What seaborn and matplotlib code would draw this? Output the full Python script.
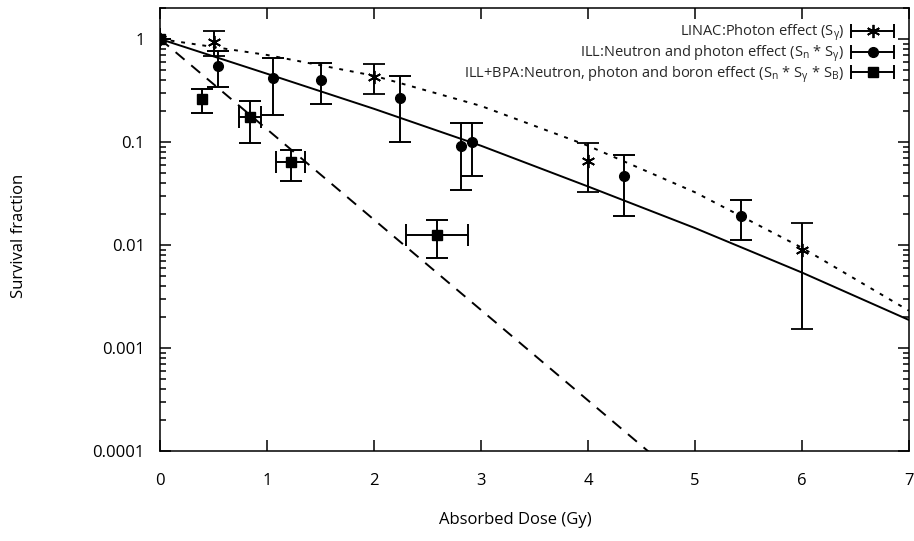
import numpy as np
import pandas as pd
import matplotlib
matplotlib.use("Agg")
import matplotlib.pyplot as plt
import seaborn as sns
from matplotlib.legend_handler import HandlerBase
from matplotlib.lines import Line2D
from matplotlib.ticker import FixedLocator, FixedFormatter, LogLocator, NullFormatter

# ---- data ----
# LINAC: photon effect
dose_linac = [0.0, 0.5, 2.0, 4.0, 6.0]
sf_linac = [1.0, 0.93, 0.43, 0.066, 0.0089]
sf_linac_hi = [1.0, 1.2, 0.57, 0.097, 0.0165]
sf_linac_lo = [1.0, 0.68, 0.29, 0.033, 0.00153]

# ILL: neutron and photon effect
dose_ill = [0.0, 0.54, 1.06, 1.50, 2.24, 2.81, 2.92, 4.34, 5.43]
sf_ill = [1.0, 0.55, 0.42, 0.40, 0.27, 0.092, 0.10, 0.047, 0.019]
sf_ill_hi = [1.0, 0.77, 0.66, 0.58, 0.44, 0.152, 0.153, 0.075, 0.0273]
sf_ill_lo = [1.0, 0.34, 0.183, 0.232, 0.10, 0.034, 0.047, 0.019, 0.0112]

# ILL+BPA: neutron, photon and boron effect
dose_bpa = [0.0, 0.39, 0.84, 1.22, 2.59]
dose_bpa_err = [0.0, 0.0, 0.10, 0.135, 0.29]
sf_bpa = [1.0, 0.26, 0.176, 0.0635, 0.0125]
sf_bpa_hi = [1.0, 0.33, 0.25, 0.084, 0.0175]
sf_bpa_lo = [1.0, 0.19, 0.098, 0.042, 0.0075]

# fitted curves
fit_dose = [0, 1, 2, 3, 4, 5, 6, 7]
fit_linac = [1.0, 0.70, 0.44, 0.224, 0.092, 0.0325, 0.0094, 0.0023]
fit_ill = [1.0, 0.46, 0.21, 0.092, 0.037, 0.0146, 0.0054, 0.00187]
fit_bpa_dose = [0, 1, 2, 3, 4, 5]
fit_bpa = [1.0, 0.133, 0.0176, 0.00234, 0.00031, 0.000041]

labels = [
    r"LINAC:Photon effect (S$_\mathregular{γ}$)",
    r"ILL:Neutron and photon effect (S$_\mathregular{n}$ * S$_\mathregular{γ}$)",
    r"ILL+BPA:Neutron, photon and boron effect (S$_\mathregular{n}$ * S$_\mathregular{γ}$ * S$_\mathregular{B}$)",
]
xticks = [0, 1, 2, 3, 4, 5, 6, 7]
yticks = [1e-4, 1e-3, 1e-2, 1e-1, 1]
ytick_labels = ["0.0001", "0.001", "0.01", "0.1", "1"]

# ---- style ----
sns.set_theme(style="ticks")
plt.rcParams['font.family'] = ['Open Sans', 'DejaVu Sans']
plt.rcParams['mathtext.fontset'] = 'dejavusans'

fig = plt.figure(figsize=(9.14, 5.41), dpi=100)
ax = fig.add_axes([160 / 914, 1 - 451 / 541, (909 - 160) / 914, (451 - 8) / 541])

lw = 1.4
sns.lineplot(x=fit_dose, y=fit_linac, ax=ax, color="black", lw=lw,
             linestyle=(0, (2, 3.5)), estimator=None, sort=False)
sns.lineplot(x=fit_dose, y=fit_ill, ax=ax, color="black", lw=lw,
             linestyle="-", estimator=None, sort=False)
sns.lineplot(x=fit_bpa_dose, y=fit_bpa, ax=ax, color="black", lw=lw,
             linestyle=(0, (6, 4.5)), estimator=None, sort=False)

def yerr(v, lo, hi):
    v = np.asarray(v); lo = np.asarray(lo); hi = np.asarray(hi)
    return [v - lo, hi - v]

ekw = dict(color="black", ecolor="black", elinewidth=lw, capthick=lw,
           capsize=8, linestyle="none")
ax.errorbar(dose_linac, sf_linac, yerr=yerr(sf_linac, sf_linac_lo, sf_linac_hi),
            marker=(6, 2, 0), ms=9.5, mew=1.3, **ekw)
ax.errorbar(dose_ill, sf_ill, yerr=yerr(sf_ill, sf_ill_lo, sf_ill_hi),
            marker="o", ms=7, **ekw)
ax.errorbar(dose_bpa, sf_bpa, xerr=dose_bpa_err,
            yerr=yerr(sf_bpa, sf_bpa_lo, sf_bpa_hi),
            marker="s", ms=6.5, **ekw)

ax.set_yscale("log")
ax.set_xlim(0, 7)
ax.set_ylim(1e-4, 2)
ax.xaxis.set_major_locator(FixedLocator(xticks))
ax.yaxis.set_major_locator(FixedLocator(yticks))
ax.yaxis.set_major_formatter(FixedFormatter(ytick_labels))
ax.yaxis.set_minor_locator(LogLocator(base=10, subs=np.arange(2, 10)))
ax.yaxis.set_minor_formatter(NullFormatter())
ax.tick_params(which="both", direction="in", top=True, right=True,
               color="black", width=1.1, labelsize=12, labelcolor="black")
ax.tick_params(which="major", length=8)
ax.tick_params(which="minor", length=4.5)
ax.tick_params(axis="x", pad=15.5)
ax.tick_params(axis="y", pad=11)
for s in ax.spines.values():
    s.set_linewidth(1.1)
    s.set_color("black")

ax.set_xlabel("Absorbed Dose (Gy)", fontsize=12, color="black")
ax.set_ylabel("Survival fraction", fontsize=12, color="black")
ax.xaxis.set_label_coords(0.475, -0.138)
ax.yaxis.set_label_coords(-0.178, 0.485)

# gnuplot-style legend keys
class GnuKey(HandlerBase):
    def __init__(self, marker, ms, mew=1.0):
        super().__init__()
        self.marker, self.ms, self.mew = marker, ms, mew
    def create_artists(self, legend, orig_handle, xdescent, ydescent, width,
                       height, fontsize, trans):
        y = height / 2 - ydescent
        x0, x1 = -xdescent, width - xdescent
        line = Line2D([x0, x1], [y, y], color="black", lw=lw, transform=trans)
        caps = Line2D([x0, x1], [y, y], color="black", ls="none", marker="|",
                      ms=10, mew=lw, transform=trans)
        mk = Line2D([(x0 + x1) / 2], [y], color="black", ls="none",
                    marker=self.marker, ms=self.ms, mew=self.mew, transform=trans)
        return [line, caps, mk]

h1 = Line2D([], [], color="black")
h2 = Line2D([], [], color="black")
h3 = Line2D([], [], color="black")
leg = ax.legend([h1, h2, h3], labels, loc="upper right", frameon=False,
                markerfirst=False, fontsize=10.5, handlelength=2.95,
                handletextpad=0.5, labelspacing=0.0, borderaxespad=0.6,
                borderpad=0.4,
                handler_map={h1: GnuKey((6, 2, 0), 9.5, 1.3),
                             h2: GnuKey("o", 7),
                             h3: GnuKey("s", 6.5)})
for t in leg.get_texts():
    t.set_ha("right")

fig.savefig("out.png", dpi=100)
